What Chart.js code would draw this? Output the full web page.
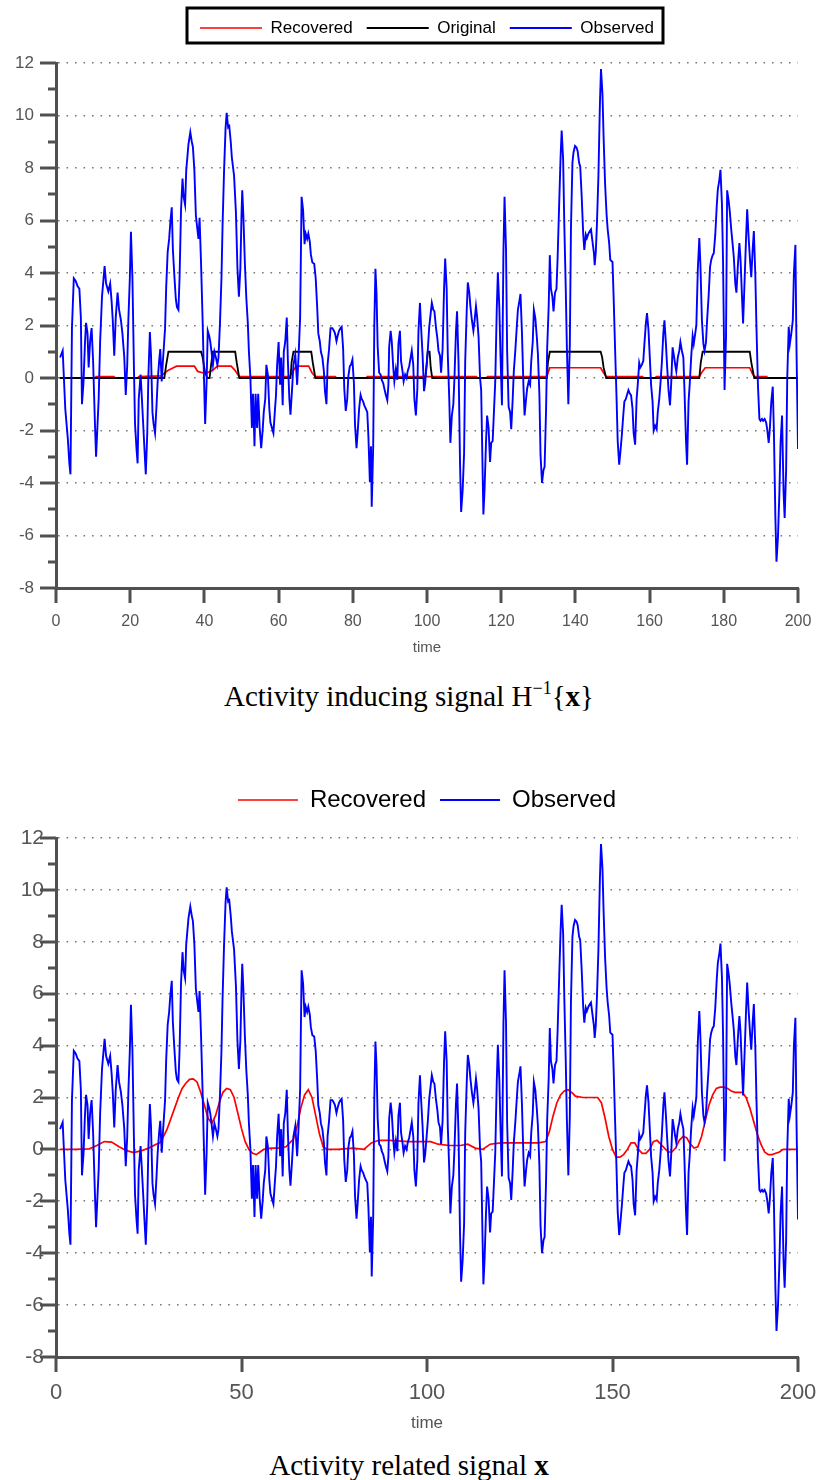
<!DOCTYPE html>
<html><head><meta charset="utf-8">
<script src="https://cdn.jsdelivr.net/npm/chart.js@4"></script>
<style>
html,body{margin:0;padding:0;background:#fff;}
body{width:818px;height:1480px;position:relative;overflow:hidden;}
.wrap{position:absolute;left:0;width:818px;}
.cap{position:absolute;left:0;width:818px;text-align:center;font-family:'Liberation Serif','DejaVu Serif',serif;font-size:29px;line-height:32px;color:#000;white-space:nowrap;}
.cap sup{font-size:18px;line-height:0;vertical-align:12px;}
</style></head>
<body>
<div class="wrap" style="top:0;height:665px"><canvas id="c1"></canvas></div>
<div class="cap" style="top:680px">Activity inducing signal H<sup>−1</sup>{<b>x</b>}</div>
<div class="wrap" style="top:740px;height:700px"><canvas id="c2"></canvas></div>
<div class="cap" style="top:1449px">Activity related signal <b>x</b></div>
<script>
// ---- data (time, value) ----
const observedPts = [
[1.1,0.78],[1.8,1.04],[2.5,-1.17],[3.2,-2.34],[3.6,-3.25],[3.9,-3.67],[4.3,1.9],[4.8,3.8],[5.3,3.7],[5.8,3.5],
[6.3,3.4],[6.7,2.3],[7.0,-1.0],[7.4,-0.2],[7.8,1.3],[8.1,2.1],[8.5,1.7],[8.8,0.4],[9.2,1.4],[9.6,1.9],
[10.0,0.65],[10.5,-1.75],[10.8,-3.0],[11.2,-1.75],[11.5,-0.8],[11.9,1.4],[12.4,3.1],[13.1,4.26],[13.5,3.6],[14.1,3.3],
[14.6,3.6],[15.0,2.9],[15.3,2.2],[15.7,0.85],[16.1,2.3],[16.6,3.25],[17.0,2.6],[17.5,2.2],[17.9,1.7],[18.4,0.8],
[18.8,-0.65],[19.2,0.5],[19.5,2.2],[19.9,3.8],[20.2,5.57],[20.6,3.8],[21.0,0.45],[21.3,-1.75],[21.7,-2.7],[22.0,-3.25],
[22.3,-0.8],[22.8,0.13],[23.1,-0.65],[23.5,-1.75],[23.8,-2.6],[24.2,-3.67],[24.6,-2.1],[24.9,0.07],[25.3,1.75],[25.6,0.9],
[26.0,-1.3],[26.3,-1.75],[26.7,-2.1],[27.1,-1.04],[27.4,-0.13],[27.8,0.65],[28.1,1.1],[28.5,-0.13],[28.8,0.6],[29.4,1.9],
[29.7,3.45],[30.1,4.8],[30.5,5.3],[30.8,5.9],[31.2,6.5],[31.5,4.9],[31.9,3.9],[32.3,3.0],[32.6,2.7],[33.0,2.6],
[33.3,3.8],[33.7,6.4],[34.1,7.6],[34.4,6.9],[34.8,6.6],[35.1,7.9],[35.7,8.9],[36.2,9.36],[36.6,9.0],[36.9,8.8],
[37.3,7.9],[37.7,6.2],[38.0,5.8],[38.4,5.3],[38.7,6.1],[39.1,4.35],[39.5,2.3],[39.8,0.5],[40.2,-1.75],[40.6,-0.13],
[40.9,1.8],[41.3,1.6],[41.6,1.37],[42.0,0.9],[42.3,0.5],[42.7,1.0],[43.1,0.78],[43.5,0.5],[43.8,0.78],[44.2,2.1],
[44.6,3.8],[44.9,5.85],[45.3,7.9],[45.7,9.5],[46.0,10.1],[46.4,9.55],[46.7,9.6],[47.1,9.0],[47.4,8.4],[48.0,7.7],
[48.5,6.3],[48.9,4.2],[49.3,3.1],[49.7,4.2],[50.0,6.2],[50.2,7.15],[50.5,6.2],[50.9,4.4],[51.3,3.05],[51.7,2.1],
[52.0,1.0],[52.4,0],[52.8,-1.9],[53.1,-0.6],[53.5,-2.6],[53.8,-0.6],[54.2,-1.9],[54.5,-0.6],[54.9,-1.9],[55.3,-2.67],
[55.7,-2.0],[56.0,-1.3],[56.4,-0.8],[56.7,0.5],[57.1,0.13],[57.5,-1.17],[57.8,-1.7],[58.2,-1.9],[58.6,-2.1],[59.0,-1.25],
[59.3,-0.65],[59.6,0.5],[60.0,1.37],[60.4,-0.26],[60.7,0.78],[61.1,-1.04],[61.4,1.0],[61.8,1.4],[62.2,2.3],[62.5,0.65],
[62.9,-0.8],[63.2,-1.4],[63.6,-0.5],[64.0,0.5],[64.5,0.9],[65.0,-0.26],[65.4,0.9],[65.8,2.3],[66.2,6.9],[66.6,6.4],
[67.0,5.1],[67.3,5.5],[67.7,5.3],[68.0,5.5],[68.4,5.2],[68.7,4.7],[69.1,4.4],[69.6,4.35],[70.0,3.8],[70.4,2.7],
[70.7,1.7],[71.1,1.4],[71.4,1.0],[71.8,0.78],[72.2,0.26],[72.5,-0.5],[72.9,-1.0],[73.2,0.5],[73.6,1.1],[74.0,1.9],
[74.5,1.9],[74.9,1.8],[75.2,1.7],[75.6,1.4],[75.9,1.6],[76.3,1.8],[76.7,1.9],[77.0,1.95],[77.4,1.1],[77.7,-0.4],
[78.1,-1.25],[78.5,-0.8],[78.8,0.07],[79.2,0.45],[79.5,0.5],[79.9,0.7],[80.3,-0.2],[80.6,-1.8],[81.0,-2.67],[81.3,-2.1],
[81.7,-1.17],[82.1,-0.65],[82.4,-0.8],[82.8,-0.9],[83.1,-1.04],[83.5,-1.17],[83.9,-1.3],[84.2,-2.2],[84.6,-3.97],[84.9,-2.6],
[85.1,-4.9],[85.5,-2.6],[85.8,2.0],[86.1,4.16],[86.4,3.2],[86.7,1.2],[87.1,0.2],[87.5,0.13],[87.8,-0.07],[88.2,-0.2],
[88.5,-0.4],[88.9,-0.65],[89.3,-0.85],[89.6,-0.26],[89.8,1.17],[90.2,1.8],[90.5,1.4],[90.9,0.4],[91.2,-0.13],[91.6,0.33],
[92.0,-0.07],[92.3,1.3],[92.7,1.8],[93.0,0.65],[93.4,0.26],[93.7,-0.13],[94.1,0.13],[94.5,0],[94.8,0.26],[95.2,0.45],
[95.6,0.78],[95.9,1.04],[96.3,0.5],[96.6,-0.8],[97.0,-1.43],[97.4,-0.4],[97.7,1.8],[98.1,2.86],[98.4,1.95],[98.8,0.9],
[99.2,-0.5],[99.5,-0.2],[99.9,0.5],[100.2,1.04],[100.6,1.95],[101.0,2.47],[101.3,2.86],[101.7,2.6],[102.0,2.54],[102.4,1.95],
[102.8,1.5],[103.1,1.04],[103.5,0.85],[103.8,0.2],[104.2,1.1],[104.6,3.4],[104.9,4.55],[105.3,3.4],[105.6,0.9],[106.0,-0.8],
[106.3,-2.47],[106.7,-1.43],[107.1,-1.0],[107.4,0],[107.8,1.75],[108.1,2.54],[108.5,0.58],[108.9,-3.25],[109.2,-5.1],[109.6,-4.3],
[110.0,-2.86],[110.3,0.65],[110.7,2.54],[111.0,3.64],[111.4,3.25],[111.7,2.73],[112.1,2.2],[112.5,1.8],[112.8,2.15],[113.2,2.73],
[113.5,2.34],[113.9,1.56],[114.3,0],[114.6,-0.46],[115.0,-3.64],[115.2,-5.2],[115.5,-4.3],[115.9,-2.47],[116.2,-1.43],[116.6,-1.9],
[117.0,-3.2],[117.3,-2.47],[117.7,-2.4],[118.0,-1.43],[118.4,-0.13],[118.8,2.6],[119.1,4.03],[119.5,2.67],[119.8,0.9],[120.2,-1.04],
[120.6,4.8],[120.9,6.9],[121.3,4.9],[121.6,1.04],[122.0,-1.1],[122.4,-1.3],[122.7,-1.95],[123.1,-0.8],[123.4,0.26],[123.8,1.04],
[124.2,1.95],[124.5,2.6],[124.9,2.93],[125.2,3.2],[125.6,1.7],[126.0,-0.33],[126.3,-1.43],[126.7,-0.8],[127.0,-0.4],[127.4,-0.13],
[127.8,-0.26],[128.1,0.65],[128.5,1.37],[128.8,2.6],[129.2,2.28],[129.6,1.56],[129.9,0.9],[130.3,-0.65],[130.6,-2.93],[131.0,-4.0],
[131.4,-3.5],[131.7,-3.38],[132.1,-1.17],[132.4,1.17],[132.8,2.73],[133.1,4.68],[133.4,3.4],[133.8,3.1],[134.1,2.54],[134.5,3.25],
[134.9,3.4],[135.2,4.55],[135.6,6.5],[136.0,8.4],[136.3,9.43],[136.7,8.3],[137.0,5.9],[137.4,3.4],[137.7,1.17],[138.1,-1.0],
[138.5,1.3],[138.8,5.7],[139.2,8.2],[139.5,8.6],[139.9,8.84],[140.3,8.78],[140.6,8.65],[141.0,8.2],[141.3,8.06],[141.7,6.9],
[142.1,5.5],[142.4,4.88],[142.8,5.46],[143.1,5.33],[143.5,5.5],[143.9,5.6],[144.2,5.66],[144.6,5.2],[145.0,4.75],[145.2,4.3],
[145.5,4.8],[145.8,5.85],[146.2,7.67],[146.6,10.4],[146.9,11.77],[147.3,10.8],[147.6,9.17],[148.0,7.4],[148.4,6.24],[148.7,5.66],
[149.1,5.14],[149.4,4.5],[150.0,4.42],[150.3,3.1],[150.7,1.1],[151.1,-0.8],[151.4,-2.4],[151.8,-3.3],[152.1,-2.86],[152.5,-2.2],
[152.9,-1.43],[153.2,-0.9],[153.6,-0.8],[153.9,-0.65],[154.3,-0.46],[154.7,-0.6],[155.0,-0.65],[155.4,-1.17],[155.7,-2.1],[156.1,-2.54],
[156.5,-0.8],[156.8,-0.26],[157.2,0.58],[157.5,0.4],[157.9,0.5],[158.3,0.65],[158.6,1.3],[159.0,2.08],[159.3,2.47],[159.7,1.82],
[160.1,0.65],[160.4,-0.26],[160.8,-0.9],[161.1,-2.0],[161.5,-1.82],[161.9,-1.95],[162.2,-1.3],[162.6,-0.8],[162.9,-0.26],[163.3,0.58],
[163.7,1.7],[164.0,2.2],[164.4,1.3],[164.7,0.5],[165.1,-0.46],[165.5,-1.04],[165.8,-0.26],[166.2,1.17],[166.5,0.9],[166.9,0.5],
[167.2,0.26],[167.6,0.78],[168.0,1.04],[168.3,1.37],[168.7,1.04],[169.1,0.78],[169.4,-0.46],[169.8,-2.34],[170.1,-3.3],[170.5,-0.9],
[170.8,-0.26],[171.2,0.78],[171.6,1.6],[171.9,1.3],[172.3,1.7],[172.6,2.0],[173.0,4.16],[173.4,5.33],[173.7,4.3],[174.1,2.2],
[174.5,1.3],[174.8,1.04],[175.2,1.37],[175.5,2.2],[175.9,3.1],[176.3,4.23],[176.6,4.5],[177.0,4.68],[177.3,4.75],[177.7,5.46],
[178.1,6.56],[178.4,7.2],[178.8,7.54],[179.1,7.93],[179.5,6.63],[179.8,4.42],[180.2,-0.46],[180.6,1.56],[180.9,7.15],[181.3,6.76],
[181.6,6.37],[182.0,5.66],[182.4,5.07],[182.7,4.6],[183.1,3.58],[183.4,3.25],[183.8,4.3],[184.2,5.14],[184.5,4.55],[184.9,3.1],
[185.2,2.08],[185.6,3.7],[186.0,5.33],[186.3,6.43],[186.7,5.33],[187.1,4.42],[187.4,3.84],[187.8,4.94],[188.1,5.6],[188.5,3.9],
[188.8,1.95],[189.2,-0.26],[189.6,-1.56],[189.9,-1.63],[190.3,-1.56],[190.6,-1.63],[191.0,-1.56],[191.4,-1.69],[191.7,-1.95],[192.1,-2.47],
[192.4,-1.95],[192.8,-0.9],[193.2,-0.33],[193.5,-2.0],[193.9,-5.3],[194.2,-7.0],[194.6,-6.05],[195.0,-4.3],[195.3,-2.47],[195.7,-1.43],
[196.1,-4.3],[196.4,-5.33],[196.8,-3.5],[197.1,0],[197.5,1.95],[197.8,1.3],[198.2,1.7],[198.6,2.2],[198.9,4.03],[199.3,5.07],
[199.6,1.04],[200.0,-2.7]
];
const originalPts = [
[1,0],[29.2,0],[29.7,0.5],[30.3,1],[39.1,1],[39.5,0.8],[40.2,0.2],[40.8,0],[41.4,0],[41.8,0.5],[42.3,1],[48.3,1],[48.7,0.6],[49.4,0],
[63.2,0],[63.5,0.6],[64.0,1],[68.8,1],[69.2,0.6],[69.9,0],[99.5,0],[99.9,0.5],[100.2,1],[100.7,1],[101.0,0.4],[101.4,0],
[132.3,0],[132.6,0.6],[133.1,1],[146.8,1],[147.2,0.8],[147.6,0.4],[148.3,0],[173.4,0],[173.8,0.6],[174.3,1],[187.0,1],[187.4,0.6],[188.2,0],[200,0]
];
const recoveredInputPts = [
[1,0],[10.5,0],[10.8,0.05],[15.6,0.05],[15.9,0],[22,0],[22.3,0.05],[28.3,0.08],[29.2,0.18],[30.3,0.3],[31.5,0.38],[32.5,0.45],
[37.3,0.45],[38.2,0.25],[39.5,0.2],[40.8,0.2],[42.3,0.3],[43.5,0.45],[47.2,0.45],[48.2,0.3],[49.4,0.05],[63,0.05],[63.8,0.25],
[64.8,0.45],[68.1,0.45],[69.0,0.2],[69.9,0.05],[75.3,0.05],[75.6,0],[83.6,0],[83.9,0.05],[113.3,0.05],[113.6,0],[116.0,0],
[116.3,0.05],[132.3,0.05],[133.1,0.39],[146.8,0.39],[147.6,0.2],[148.3,0.05],[158.1,0.05],[158.4,0],[161.5,0],[161.8,0.05],
[173.4,0.05],[174.0,0.2],[175.0,0.39],[187.0,0.39],[187.6,0.2],[188.2,0.05],[191.8,0.05]
];
const recoveredSignalPts = [
[1,0],[5,0],[9,0.02],[11,0.15],[13,0.3],[15,0.28],[17,0.1],[19,-0.05],[21,-0.12],[23,-0.05],[25,0.05],[27,0.2],[28,0.25],
[29,0.5],[30,0.8],[31,1.2],[32,1.6],[33,2.0],[34,2.35],[35,2.55],[36,2.7],[37,2.72],[38,2.6],[39,2.2],[40,1.7],[41,1.2],
[42,1.0],[43,1.3],[44,1.8],[45,2.2],[46,2.35],[47,2.3],[48,2.0],[49,1.4],[50,0.8],[51,0.3],[52,0.0],[53,-0.15],[54,-0.2],
[55,-0.1],[56,0.0],[58,0.05],[60,0.05],[62,0.1],[64,0.4],[65,0.9],[66,1.6],[67,2.1],[68,2.3],[69,2.0],[70,1.3],[71,0.6],
[72,0.1],[73,0.0],[76,0.0],[80,0.05],[83,0.0],[85,0.25],[87,0.35],[90,0.35],[95,0.3],[98,0.3],[101,0.3],[103,0.2],[106,0.15],
[109,0.15],[111,0.2],[113,0.05],[115,0.0],[117,0.2],[120,0.25],[125,0.25],[130,0.25],[132,0.3],[133,0.7],[134,1.3],[135,1.8],
[136,2.1],[137,2.25],[138,2.3],[139,2.2],[140,2.05],[142,2.0],[144,2.0],[146,2.0],[147,1.8],[148,1.2],[149,0.5],[150,0.0],
[151,-0.3],[152,-0.3],[153,-0.2],[154,0.0],[155,0.25],[156,0.25],[157,0.0],[158,-0.15],[159,-0.15],[160,0.0],[161,0.3],
[162,0.35],[163,0.2],[164,0.05],[165,-0.1],[166,-0.1],[167,0.05],[168,0.35],[169,0.5],[170,0.45],[171,0.2],[172,0.05],
[173,0.1],[174,0.5],[175,1.1],[176,1.7],[177,2.1],[178,2.35],[179,2.4],[180,2.4],[181,2.35],[182,2.25],[183,2.2],[184,2.2],
[185,2.2],[186,2.0],[187,1.6],[188,1.1],[189,0.6],[190,0.2],[191,-0.1],[192,-0.2],[193,-0.2],[194,-0.15],[195,-0.1],[196,0.0],[200,0.0]
];
const seriesNames1 = ['Recovered','Original','Observed'];
const seriesNames2 = ['Recovered','Observed'];
const xTitle = 'time';
const yRange = [-8, 12];
const xRange = [0, 200];

const toXY = pts => pts.map(p => ({x: p[0], y: p[1]}));
const AX = '#505050', TXT = '#555555';
Chart.defaults.font.family = "'Liberation Sans', Arial, sans-serif";
Chart.defaults.animation = false;

const axisTicks = {
  id: 'axisTicks',
  afterDraw(chart, args, o) {
    const {ctx, chartArea: a, scales: {x, y}} = chart;
    ctx.save();
    ctx.strokeStyle = AX; ctx.lineWidth = 3; ctx.lineCap = 'butt';
    y.ticks.forEach(t => {
      const py = Math.round(y.getPixelForValue(t.value));
      const len = (t.value % 2 === 0) ? o.yMajor : o.yMinor;
      ctx.beginPath(); ctx.moveTo(a.left - len, py); ctx.lineTo(a.left, py); ctx.stroke();
    });
    x.ticks.forEach(t => {
      const px = Math.round(x.getPixelForValue(t.value));
      ctx.beginPath(); ctx.moveTo(px, a.bottom); ctx.lineTo(px, a.bottom + o.xLen); ctx.stroke();
    });
    ctx.restore();
  }
};
const legendBox = {
  id: 'legendBox',
  afterDraw(chart, args, o) {
    const hb = chart.legend.legendHitBoxes;
    if (!hb || !hb.length) return;
    const f = hb[0], l = hb[hb.length - 1];
    const ctx = chart.ctx;
    ctx.save(); ctx.strokeStyle = '#000'; ctx.lineWidth = 3;
    const x1 = f.left - o.padL, x2 = l.left + l.width + o.padR;
    ctx.strokeRect(x1, o.top, x2 - x1, o.bottom - o.top);
    ctx.restore();
  }
};

function buildOptions(c) {
  return {
    responsive: true, maintainAspectRatio: false, animation: false,
    layout: {padding: {top: c.padTop, left: 0, right: 20, bottom: 0}},
    plugins: {
      tooltip: {enabled: false},
      axisTicks: {yMajor: c.yMajor, yMinor: c.yMinor, xLen: c.xLen},
      legendBox: c.box || {},
      title: {display: true, text: '', weight: 500, fullSize: false, font: {size: 10}, padding: {top: c.gap - 12, bottom: 0}},
      legend: {
        display: true, position: 'top', fullSize: false, weight: 1000,
        labels: {
          usePointStyle: true, pointStyle: 'line', pointStyleWidth: c.legW,
          boxHeight: c.legFont, padding: 14, color: '#000',
          font: {size: c.legFont},
          sort: (a, b) => a.datasetIndex - b.datasetIndex
        }
      }
    },
    scales: {
      x: {
        type: 'linear', min: xRange[0], max: xRange[1],
        grid: {display: false, drawTicks: false},
        border: {display: true, color: AX, width: 3},
        ticks: {stepSize: c.xStep, autoSkip: false, maxRotation: 0, color: TXT, font: {size: c.xFont}, padding: c.xPad},
        title: {display: true, text: xTitle, color: TXT, font: {size: c.tFont}, padding: {top: 0, bottom: c.tPad}},
        afterFit: s => { s.height = c.xH; s.paddingLeft = 0; s.paddingRight = 0; }
      },
      y: {
        type: 'linear', min: yRange[0], max: yRange[1],
        grid: {
          drawTicks: false, lineWidth: 1.6,
          color: g => (g.tick && g.tick.value % 2 === 0 && g.tick.value !== yRange[0]) ? '#7a7a7a' : 'rgba(0,0,0,0)'
        },
        border: {display: true, color: AX, width: 3, dash: [1.6, 6.9]},
        ticks: {stepSize: 1, autoSkip: false, color: TXT, font: {size: c.yFont}, padding: c.yPad,
                callback: v => (v % 2 === 0 ? String(v) : '')},
        afterFit: s => { s.width = 56; s.paddingTop = 0; }
      }
    }
  };
}

new Chart(document.getElementById('c1'), {
  type: 'line',
  data: {datasets: [
    {label: seriesNames1[0], data: toXY(recoveredInputPts), borderColor: '#ff0000', borderWidth: 1.7, pointRadius: 0, tension: 0, order: 3},
    {label: seriesNames1[1], data: toXY(originalPts), borderColor: '#000000', borderWidth: 1.8, pointRadius: 0, tension: 0, order: 2},
    {label: seriesNames1[2], data: toXY(observedPts), borderColor: '#0000ff', borderWidth: 1.9, pointRadius: 0, tension: 0, order: 1}
  ]},
  options: buildOptions({padTop: 5.5, gap: 16.5, legW: 62, legFont: 17, xH: 77, xStep: 20, xFont: 16, xPad: 24,
    yFont: 17, yPad: 22, tFont: 15, tPad: 8, yMajor: 16, yMinor: 8, xLen: 15,
    box: {padL: 13, padR: 9, top: 8, bottom: 43}}),
  plugins: [axisTicks, legendBox]
});

new Chart(document.getElementById('c2'), {
  type: 'line',
  data: {datasets: [
    {label: seriesNames2[0], data: toXY(recoveredSignalPts), borderColor: '#ff0000', borderWidth: 1.7, pointRadius: 0, tension: 0, order: 2},
    {label: seriesNames2[1], data: toXY(observedPts), borderColor: '#0000ff', borderWidth: 1.9, pointRadius: 0, tension: 0, order: 1}
  ]},
  options: buildOptions({padTop: 34, gap: 16, legW: 60, legFont: 24, xH: 83, xStep: 50, xFont: 22, xPad: 23,
    yFont: 21, yPad: 12, tFont: 17, tPad: 6, yMajor: 16, yMinor: 8, xLen: 15}),
  plugins: [axisTicks]
});
</script>
</body></html>
